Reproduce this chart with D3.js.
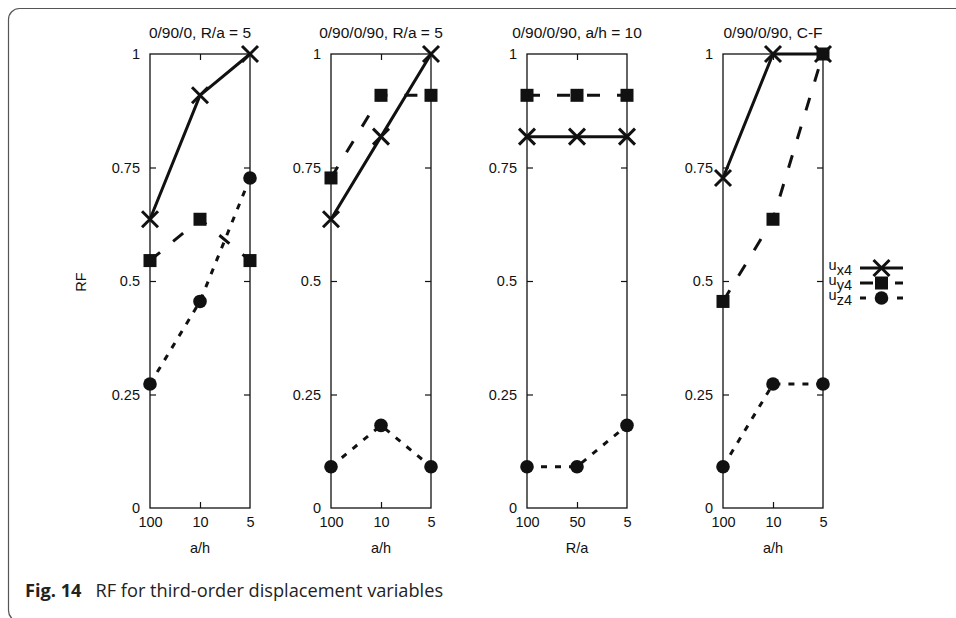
<!DOCTYPE html>
<html><head><meta charset="utf-8">
<script src="https://cdn.jsdelivr.net/npm/d3@7"></script>
<style>body{margin:0;background:#fff}svg{display:block}</style>
</head><body>
<svg id="c" width="956" height="618"></svg>
<script>
// ---- data ----
const panelTitles = ["0/90/0, R/a = 5", "0/90/0/90, R/a = 5", "0/90/0/90, a/h = 10", "0/90/0/90, C-F"];
const xCategories = [["100","10","5"],["100","10","5"],["100","50","5"],["100","10","5"]];
const xTitles = ["a/h","a/h","R/a","a/h"];
const seriesNames = ["x4","y4","z4"];
const ux4 = [[0.636,0.909,1.0],[0.636,0.818,1.0],[0.818,0.818,0.818],[0.727,1.0,1.0]];
const uy4 = [[0.545,0.636,0.545],[0.727,0.909,0.909],[0.909,0.909,0.909],[0.455,0.636,1.0]];
const uz4 = [[0.273,0.455,0.727],[0.091,0.182,0.091],[0.091,0.091,0.182],[0.091,0.273,0.273]];
const yTicks = [0,0.25,0.5,0.75,1];
const yTickLabels = ["0","0.25","0.5","0.75","1"];
const yTitle = "RF";
const captionBold = "Fig. 14";
const captionText = "RF for third-order displacement variables";

// ---- layout ----
const svg = d3.select("#c");
const panelLeft = [150, 331, 527, 723];
const pw = 100, plotTop = 54, plotBottom = 508;
const font = "'Liberation Sans', Arial, sans-serif";
const fs = 14.5;
const y = d3.scaleLinear().domain([0,1]).range([plotBottom, plotTop]);

svg.append("rect").attr("x",8.5).attr("y",8.5).attr("width",1000).attr("height",613)
  .attr("rx",11).attr("fill","none").attr("stroke","#555").attr("stroke-width",1.2);

const styles = [
  {data: ux4, dash: null, legDash: null, marker: "x"},
  {data: uy4, dash: "13,17", legDash: "13,22", marker: "square"},
  {data: uz4, dash: "6,8", legDash: "6,31", marker: "circle"}
];

function drawMarker(g, type, cx, cy) {
  if (type === "x") {
    const s = 8;
    g.append("path").attr("d", `M${cx-s},${cy-s}L${cx+s},${cy+s}M${cx-s},${cy+s}L${cx+s},${cy-s}`)
      .attr("stroke","#111").attr("stroke-width",3).attr("fill","none");
  } else if (type === "square") {
    g.append("rect").attr("x",cx-6.5).attr("y",cy-6.5).attr("width",13).attr("height",13).attr("fill","#111");
  } else {
    g.append("circle").attr("cx",cx).attr("cy",cy).attr("r",6.8).attr("fill","#111");
  }
}

panelTitles.forEach((title, p) => {
  const x0 = panelLeft[p], x1 = x0 + pw;
  const x = d3.scalePoint().domain(xCategories[p]).range([x0, x1]).padding(0);
  const g = svg.append("g");

  g.append("rect").attr("x",x0).attr("y",plotTop).attr("width",pw).attr("height",plotBottom-plotTop)
    .attr("fill","none").attr("stroke","#111").attr("stroke-width",1.3);

  const yl = d3.axisLeft(y).tickValues(yTicks).tickSize(-6).tickPadding(16)
    .tickFormat((d,i)=>yTickLabels[i]);
  const ga = g.append("g").attr("transform",`translate(${x0},0)`).call(yl);
  const yr = d3.axisRight(y).tickValues(yTicks.slice(1,-1)).tickSize(-6).tickFormat("");
  const gr = g.append("g").attr("transform",`translate(${x1},0)`).call(yr);
  const xb = d3.axisBottom(x).tickSize(-6).tickPadding(9);
  const gb = g.append("g").attr("transform",`translate(0,${plotBottom})`).call(xb);
  const xt = d3.axisTop(x).tickValues([xCategories[p][1]]).tickSize(-6).tickFormat("");
  const gt = g.append("g").attr("transform",`translate(0,${plotTop})`).call(xt);
  [ga,gr,gb,gt].forEach(a=>{
    a.attr("font-family",font).attr("font-size",fs);
    a.select(".domain").remove();
    a.selectAll("line").attr("stroke","#111").attr("stroke-width",1.2);
    a.selectAll("text").attr("fill","#111");
  });
  ga.selectAll(".tick text").attr("x",-10);
  ga.selectAll(".tick line").filter(d=>d===0||d===1).remove();
  gb.selectAll(".tick line").filter((d,i)=>i!==1).remove();

  g.append("text").attr("x",(x0+x1)/2).attr("y",38).attr("text-anchor","middle")
    .attr("font-family",font).attr("font-size",15.5).attr("fill","#111").text(title);
  g.append("text").attr("x",(x0+x1)/2).attr("y",553).attr("text-anchor","middle")
    .attr("font-family",font).attr("font-size",fs).attr("fill","#111").text(xTitles[p]);

  styles.forEach(s => {
    const vals = s.data[p];
    const line = d3.line().x((d,i)=>x(xCategories[p][i])).y(d=>y(d));
    g.append("path").attr("d", line(vals)).attr("fill","none").attr("stroke","#111")
      .attr("stroke-width",3).attr("stroke-dasharray", s.dash);
    vals.forEach((v,i)=>drawMarker(g, s.marker, x(xCategories[p][i]), y(v)));
  });
});

svg.append("text").attr("transform","translate(86,282) rotate(-90)").attr("text-anchor","middle")
  .attr("font-family",font).attr("font-size",fs).attr("fill","#111").text(yTitle);

const legY = [268, 283, 298];
styles.forEach((s,i)=>{
  const t = svg.append("text").attr("x",852).attr("y",legY[i]+2).attr("text-anchor","end")
    .attr("font-family",font).attr("font-size",fs).attr("fill","#111");
  t.append("tspan").text("u");
  t.append("tspan").attr("dy",5).text(seriesNames[i]);
  svg.append("line").attr("x1",860).attr("x2",903).attr("y1",legY[i]).attr("y2",legY[i])
    .attr("stroke","#111").attr("stroke-width",3).attr("stroke-dasharray", s.legDash);
  drawMarker(svg, s.marker, 881.5, legY[i]);
});

const cap = svg.append("text").attr("x",25).attr("y",597).attr("font-family","'Open Sans','Noto Sans',sans-serif")
  .attr("font-size",18.2).attr("fill","#222");
cap.append("tspan").attr("font-weight","bold").text(captionBold);
cap.append("tspan").attr("dx",14).text(captionText);
</script>
</body></html>
